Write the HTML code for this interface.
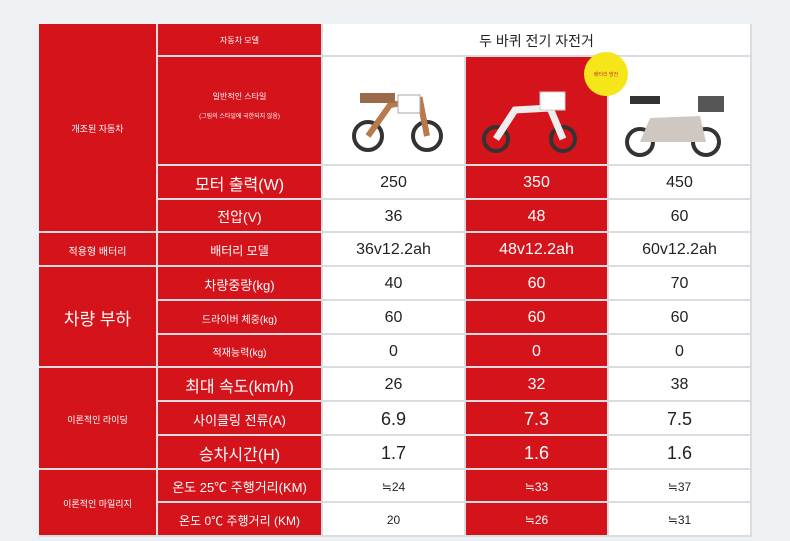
<!DOCTYPE html>
<html><head><meta charset="utf-8"><style>
body{margin:0;width:790px;height:541px;background:#eef1f4;font-family:"Liberation Sans","Noto Sans CJK KR",sans-serif;overflow:hidden;position:relative}
.c{position:absolute;display:flex;align-items:center;justify-content:center;text-align:center;box-sizing:border-box;border-right:2px solid #d9dde2;border-bottom:2px solid #d9dde2;padding-top:2px}
.r{background:#d5131b;color:#fff}
.w{background:#fff;color:#222}
</style></head><body>
<div id="t"></div>
<script>
const X=[39,158,323,466,609,752];
const Y=[24,57,166,200,233,267,301,335,368,402,436,470,503,537];
let h='';
function cell(x1,x2,y1,y2,cls,txt,fs){h+=`<div class="c ${cls}" style="left:${X[x1]}px;top:${Y[y1]}px;width:${X[x2]-X[x1]}px;height:${Y[y2]-Y[y1]}px;font-size:${fs}px">${txt}</div>`;}
cell(0,1,0,4,'r','개조된 자동차',9);
cell(0,1,4,5,'r','적용형 배터리',10);
cell(0,1,5,8,'r','차량 부하',17);
cell(0,1,8,11,'r','이론적인 라이딩',9);
cell(0,1,11,13,'r','이론적인 마일리지',9);
cell(1,2,0,1,'r','자동차 모델',8);
cell(1,2,1,2,'r','<div>일반적인 스타일<br><span style="font-size:6px;line-height:30px">(그림의 스타일에 국한되지 않음)</span></div>',8);
cell(2,5,0,1,'w','두 바퀴 전기 자전거',14);
const labels=[['모터 출력(W)',16],['전압(V)',14],['배터리 모델',12],['차량중량(kg)',13],['드라이버 체중(kg)',10],['적재능력(kg)',10],['최대 속도(km/h)',16],['사이클링 전류(A)',13],['승차시간(H)',16],['온도 25℃ 주행거리(KM)',13],['온도 0℃ 주행거리 (KM)',12]];
const vals=[['250','350','450'],['36','48','60'],['36v12.2ah','48v12.2ah','60v12.2ah'],['40','60','70'],['60','60','60'],['0','0','0'],['26','32','38'],['6.9','7.3','7.5'],['1.7','1.6','1.6'],['≒24','≒33','≒37'],['20','≒26','≒31']];
const vfs=[16,16,16,16,16,16,16,18,18,12,12];
for(let i=0;i<11;i++){cell(1,2,i+2,i+3,'r',labels[i][0],labels[i][1]);
 for(let j=0;j<3;j++)cell(j+2,j+3,i+2,i+3,j==1?'r':'w',vals[i][j],vfs[i]);}
for(let j=0;j<3;j++)cell(j+2,j+3,1,2,j==1?'r':'w','',10);
document.getElementById('t').innerHTML=h;
</script>
<svg width="790" height="541" style="position:absolute;left:0;top:0">
<circle cx="606" cy="74" r="22" fill="#f5e61a"/>
<text x="606" y="76" font-size="5" text-anchor="middle" fill="#c33" font-family="Liberation Sans, Noto Sans CJK KR, sans-serif">배터리 방전</text>
<g fill="none" stroke="#333" stroke-width="4">
<circle cx="368" cy="136" r="14"/><circle cx="427" cy="136" r="14"/>
<circle cx="496" cy="139" r="12"/><circle cx="563" cy="139" r="12"/>
<circle cx="640" cy="142" r="13"/><circle cx="706" cy="142" r="13"/>
</g>
<path d="M368 136 L390 105 L420 100 L427 136" stroke="#b87a4b" stroke-width="6" fill="none"/>
<rect x="360" y="93" width="35" height="10" fill="#9a6a4a"/>
<rect x="398" y="95" width="22" height="18" fill="#fff" stroke="#aaa"/>
<path d="M496 139 L515 110 L550 108 L563 139" stroke="#eee" stroke-width="7" fill="none"/>
<rect x="540" y="92" width="25" height="18" fill="#fff" stroke="#ccc"/>
<path d="M640 142 L650 118 L700 116 L706 142 Z" fill="#cfc8c2"/>
<rect x="630" y="96" width="30" height="8" fill="#333"/>
<rect x="698" y="96" width="26" height="16" fill="#555"/>
</svg>
</body></html>
